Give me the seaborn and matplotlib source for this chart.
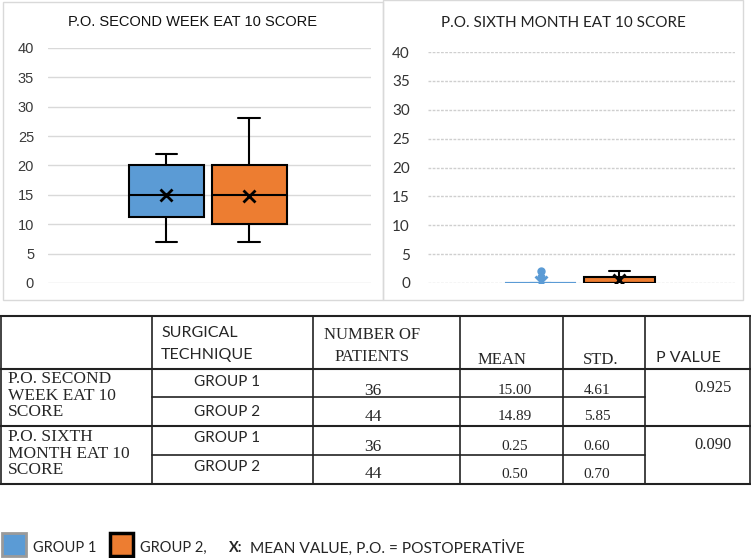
import matplotlib
matplotlib.use("Agg")
import matplotlib.pyplot as plt
from matplotlib.patches import Rectangle
import seaborn as sns

# box summary values
groups = ["GROUP 1", "GROUP 2"]
group_colors = ["#5B9BD5", "#ED7D31"]

week2_whislo = [7, 7]
week2_q1 = [11.3, 10]
week2_med = [15, 15]
week2_q3 = [20, 20]
week2_whishi = [22, 28]
week2_mean = [15.00, 14.89]
week2_fliers = [[], []]

month6_whislo = [0, 0]
month6_q1 = [0, 0]
month6_med = [0, 0]
month6_q3 = [0, 1]
month6_whishi = [0, 2]
month6_mean = [0.25, 0.50]
month6_fliers = [[1, 2], []]

y_ticks = [0, 5, 10, 15, 20, 25, 30, 35, 40]

# table contents
table_header = ["SURGICAL\nTECHNIQUE", "NUMBER OF\nPATIENTS", "MEAN", "STD.", "P VALUE"]
table_blocks = ["P.O. SECOND\nWEEK EAT 10\nSCORE", "P.O. SIXTH\nMONTH EAT 10\nSCORE"]
table_patients = [["36", "44"], ["36", "44"]]
table_means = [["15.00", "14.89"], ["0.25", "0.50"]]
table_std = [["4.61", "5.85"], ["0.60", "0.70"]]
table_p = ["0.925", "0.090"]

sns.set_style("white")
plt.rcParams["font.family"] = ["Lato", "DejaVu Sans"]

W, H = 751, 558
fig = plt.figure(figsize=(W / 100, H / 100), dpi=100)


def px_axes(x0, y0, x1, y1):
    return fig.add_axes([x0 / W, 1 - y1 / H, (x1 - x0) / W, (y1 - y0) / H])


def make_stats(whislo, q1, med, q3, whishi, mean, fliers, i):
    return dict(whislo=whislo[i], q1=q1[i], med=med[i], q3=q3[i],
                whishi=whishi[i], mean=mean[i], fliers=fliers[i], label=groups[i])


def draw_boxes(ax, data, month6=False):
    positions = [1, 2]
    for i in range(2):
        st = make_stats(*data, i)
        edge = "black"
        if month6 and i == 0:
            edge = group_colors[0]
        ax.bxp([st], positions=[positions[i]], widths=0.9, capwidths=0.26,
               showmeans=True, patch_artist=True,
               boxprops=dict(facecolor=group_colors[i], edgecolor=edge, linewidth=1.5),
               medianprops=dict(color=edge, linewidth=1.5),
               whiskerprops=dict(color=edge, linewidth=1.5),
               capprops=dict(color=edge, linewidth=1.5),
               meanprops=dict(marker="x", markeredgecolor=edge, markersize=9,
                              markeredgewidth=2),
               flierprops=dict(marker="o", markerfacecolor=group_colors[0],
                               markeredgecolor=group_colors[0], markersize=5))
    ax.set_xlim(-0.43, 3.47)
    ax.set_ylim(0, 40)
    ax.set_yticks(y_ticks)
    ax.set_xticks([])
    for s in ax.spines.values():
        s.set_visible(False)


# panel frames and overlay for table / legend
over = fig.add_axes([0, 0, 1, 1])
over.set_xlim(0, W)
over.set_ylim(H, 0)
over.axis("off")
over.add_patch(Rectangle((3, 2), 380, 298, fill=False, edgecolor="#d9d9d9", lw=1))
over.add_patch(Rectangle((383, 0), 360, 300, fill=False, edgecolor="#d9d9d9", lw=1))

# left chart
ax1 = px_axes(48, 48, 371, 283)
draw_boxes(ax1, (week2_whislo, week2_q1, week2_med, week2_q3, week2_whishi,
                 week2_mean, week2_fliers))
ax1.yaxis.grid(True, color="#d9d9d9", lw=1)
ax1.set_axisbelow(True)
ax1.tick_params(axis="y", length=0, pad=10, labelsize=10.5, labelcolor="#3a3a3a")
for t in ax1.get_yticklabels():
    t.set_fontfamily("Liberation Sans")
fig.text(192 / W, 1 - 22 / H, "P.O. SECOND WEEK EAT 10 SCORE", ha="center", va="center",
         fontsize=10.5, family="Liberation Sans", color="#111111")

# right chart
ax2 = px_axes(428, 52, 735, 283)
draw_boxes(ax2, (month6_whislo, month6_q1, month6_med, month6_q3, month6_whishi,
                 month6_mean, month6_fliers), month6=True)
ax2.yaxis.grid(True, color="#cfcfcf", lw=1, linestyle=(0, (2, 1)))
ax2.set_axisbelow(True)
ax2.tick_params(axis="y", length=0, pad=13, labelsize=11, labelcolor="#333333")
fig.text(563 / W, 1 - 23 / H, "P.O. SIXTH MONTH EAT 10 SCORE", ha="center", va="center",
         fontsize=11, color="#222222")

# table grid
lc = "#222222"
over.plot([0, 751], [316, 316], color=lc, lw=1.5)
over.plot([0, 751], [369, 369], color=lc, lw=1.5)
over.plot([0, 751], [426, 426], color=lc, lw=1.5)
over.plot([0, 751], [484, 484], color=lc, lw=1.5)
over.plot([152, 645], [397, 397], color=lc, lw=1.2)
over.plot([152, 645], [455, 455], color=lc, lw=1.2)
for x in [1, 152, 313, 460, 563, 645, 750]:
    over.plot([x, x], [316, 484], color=lc, lw=1.2)

serif = "Liberation Serif"
over.text(161, 344, table_header[0], ha="left", va="center", fontsize=11.5,
          linespacing=1.65)
over.text(372, 346, table_header[1], ha="center", va="center", fontsize=12,
          family=serif, linespacing=1.55)
over.text(502, 360, table_header[2], ha="center", va="center", fontsize=12, family=serif)
over.text(601, 360, table_header[3], ha="center", va="center", fontsize=12, family=serif)
over.text(688, 358, table_header[4], ha="center", va="center", fontsize=11.5)

block_top = [380, 438]
group_y = [[382, 412], [438, 467]]
val_y = [[391, 417], [447, 474]]
p_y = [388, 445]
for b in range(2):
    over.text(8, block_top[b] - 9, table_blocks[b], ha="left", va="top", fontsize=12.5,
              family=serif, linespacing=1.05)
    for g in range(2):
        over.text(227, group_y[b][g], groups[g], ha="center", va="center", fontsize=11)
        over.text(373, val_y[b][g], table_patients[b][g], ha="center", va="center",
                  fontsize=12.5, family=serif)
        over.text(515, val_y[b][g], table_means[b][g], ha="center", va="center",
                  fontsize=11, family=serif)
        over.text(597, val_y[b][g], table_std[b][g], ha="center", va="center",
                  fontsize=11, family=serif)
    over.text(713, p_y[b], table_p[b], ha="center", va="center", fontsize=12, family=serif)

# legend line at the bottom
over.add_patch(Rectangle((2, 533), 24, 23, facecolor=group_colors[0], edgecolor="#9a9a9a", lw=2))
over.text(33, 548, "GROUP 1", ha="left", va="center", fontsize=10.5)
over.add_patch(Rectangle((110, 533), 23, 23, facecolor=group_colors[1], edgecolor="black", lw=2.5))
over.text(140, 548, "GROUP 2,", ha="left", va="center", fontsize=10.5)
over.text(229, 548, "X:", ha="left", va="center", fontsize=10.5, fontweight="bold")
over.text(250, 548, "MEAN VALUE, P.O. = POSTOPERATİVE", ha="left", va="center", fontsize=11.2)

fig.savefig("out.png", dpi=100)
